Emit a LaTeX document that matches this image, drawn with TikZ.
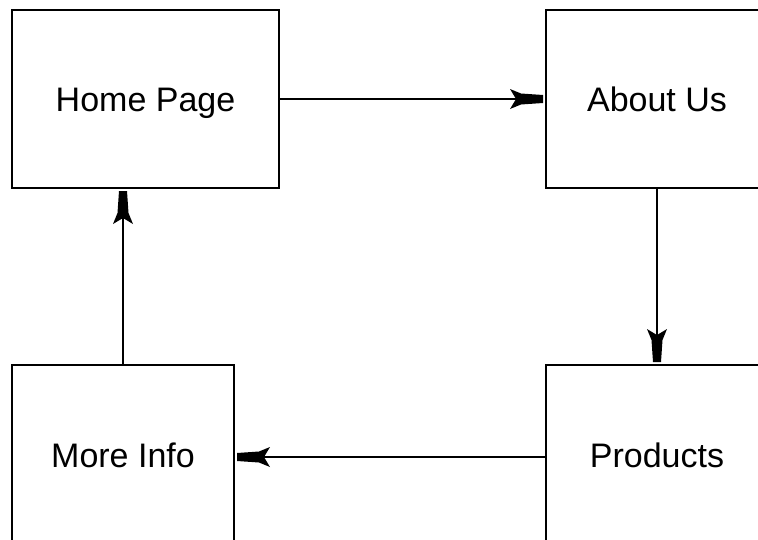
\documentclass[tikz,border=0pt]{standalone}
\usepackage{fontspec}
\setmainfont{Liberation Sans}
\usetikzlibrary{arrows.meta}
\pgfdeclarearrow{
  name=BlobTip,
  setup code={
    \pgfarrowssettipend{0pt}
    \pgfarrowssetlineend{-20pt}
    \pgfarrowssetbackend{-33pt}
    \pgfarrowsupperhullpoint{-33pt}{10pt}
    \pgfarrowsupperhullpoint{0pt}{4pt}
  },
  drawing code={
    \pgfpathmoveto{\pgfqpoint{0pt}{4pt}}
    \pgfpathlineto{\pgfqpoint{-22pt}{5.5pt}}
    \pgfpathlineto{\pgfqpoint{-33pt}{10pt}}
    \pgfpathlineto{\pgfqpoint{-27pt}{0pt}}
    \pgfpathlineto{\pgfqpoint{-33pt}{-10pt}}
    \pgfpathlineto{\pgfqpoint{-22pt}{-5.5pt}}
    \pgfpathlineto{\pgfqpoint{0pt}{-4pt}}
    \pgfpathclose
    \pgfusepathqfill
  }
}
\begin{document}
\begin{tikzpicture}[x=1pt,y=-1pt,
  page/.style={draw=black,line width=2pt,fill=white,inner sep=0pt,
    text height=24pt,text depth=0pt,
    font=\fontsize{34}{40}\selectfont},
  link/.style={draw=black,line width=2pt,-{BlobTip}, shorten >=2pt}]
\useasboundingbox (0,0) rectangle (758,539);
\clip (0,0) rectangle (758,539);
\fill[white] (0,0) rectangle (758,539);
\node[page,minimum width=267pt,minimum height=178pt] (home) at (145.5,99) {Home Page};
\node[page,minimum width=222pt,minimum height=178pt] (about) at (657,99) {About Us};
\node[page,minimum width=222pt,minimum height=180pt] (more) at (123,455) {More Info};
\node[page,minimum width=222pt,minimum height=180pt] (prod) at (657,455) {Products};
\draw[link] (home.east) -- (about.west);
\draw[link] (about.south) -- (prod.north);
\draw[link] (prod.west |- 0,457) -- (more.east |- 0,457);
\draw[link] (more.north) -- (more.north |- home.south);
\end{tikzpicture}
\end{document}
